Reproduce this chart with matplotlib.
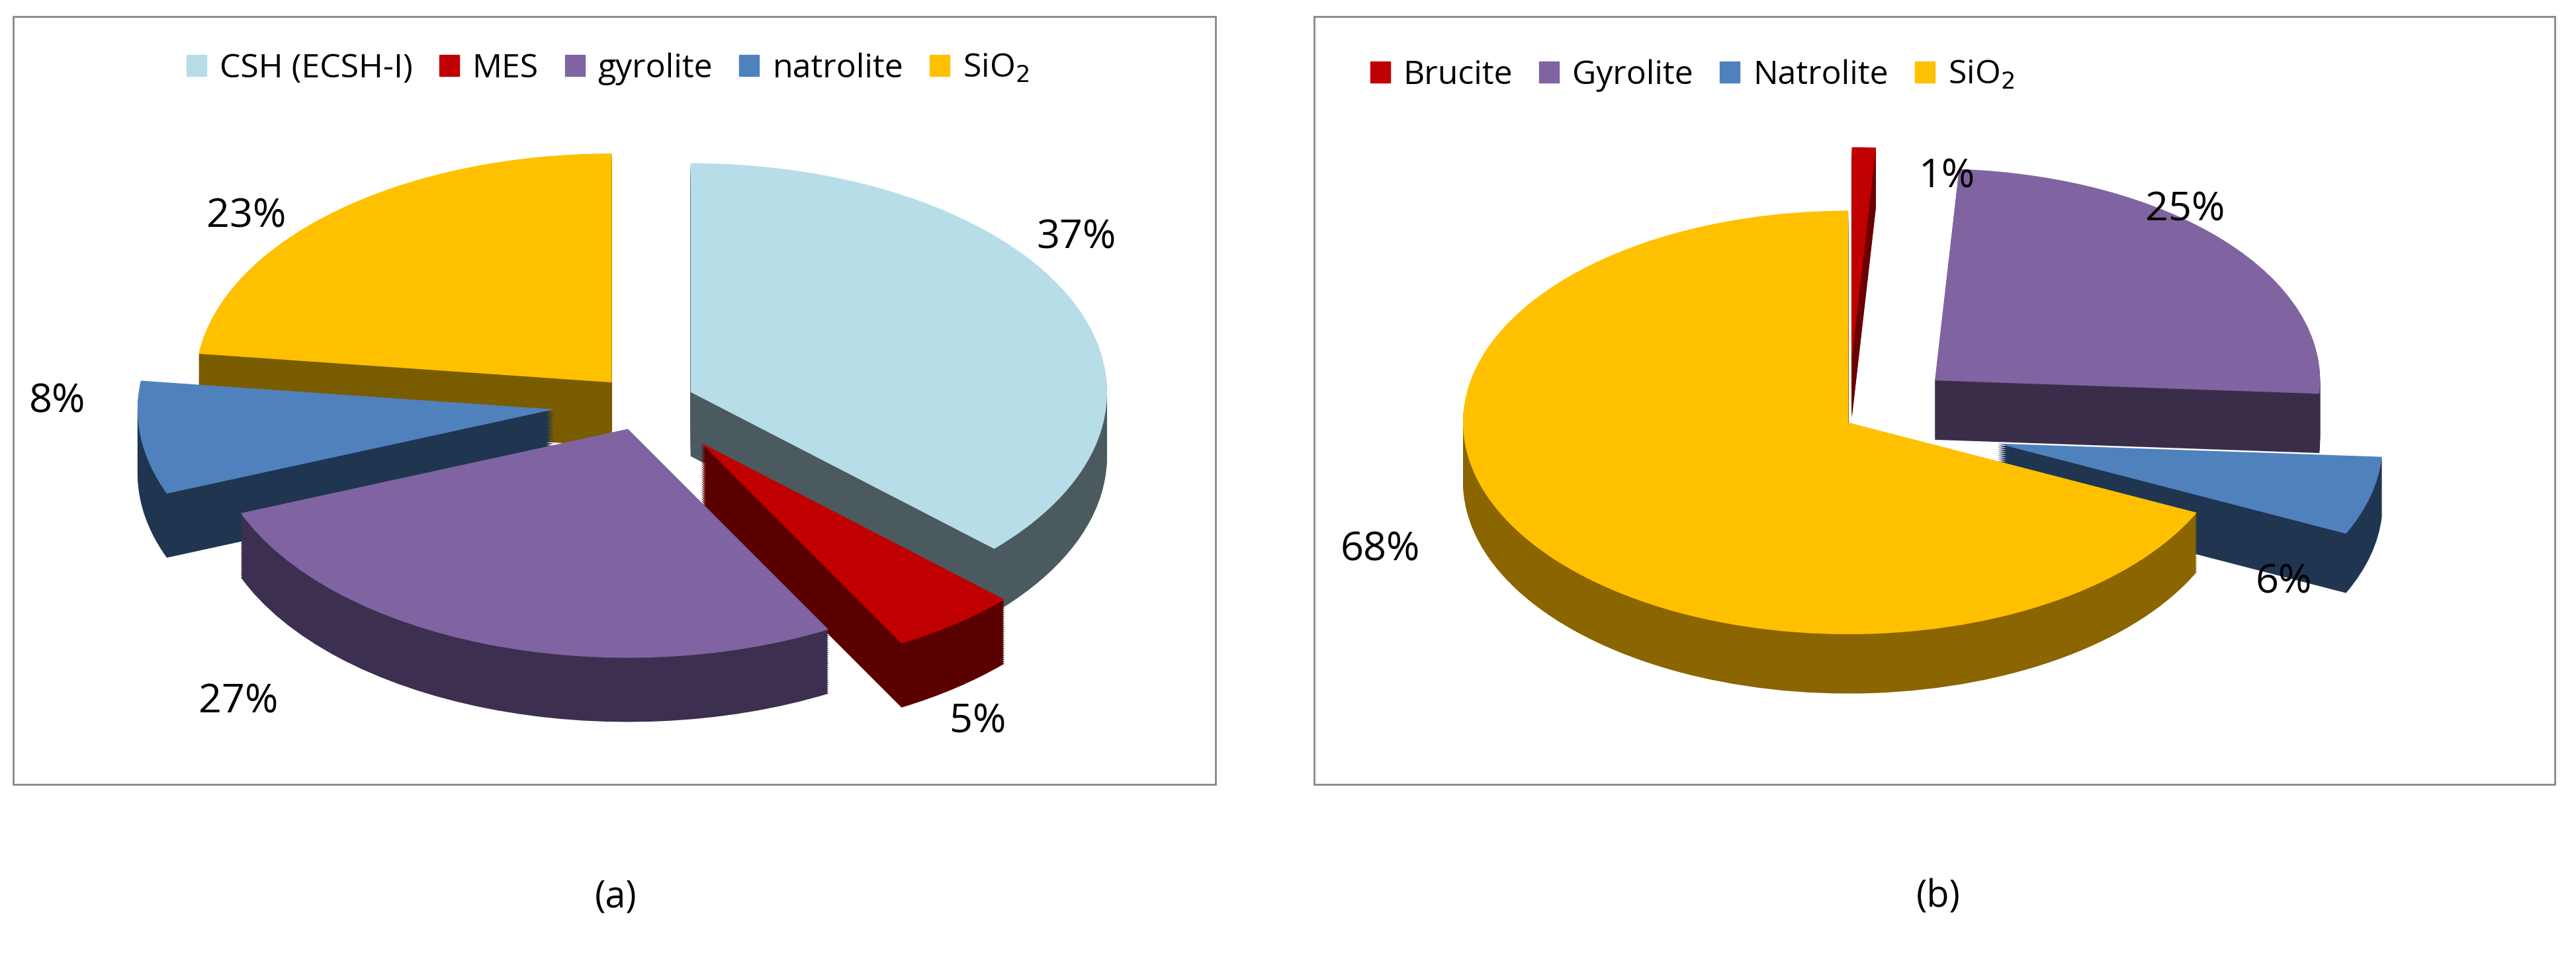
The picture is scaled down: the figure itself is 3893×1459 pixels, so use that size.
import matplotlib
matplotlib.use("Agg")
import matplotlib.pyplot as plt
from matplotlib.patches import Rectangle, Patch
import numpy as np

labels_a = ["CSH (ECSH-I)", "MES", "gyrolite", "natrolite", "SiO$_2$"]
values_a = [37, 5, 27, 8, 23]
colors_a = ["#b7dde8", "#c00000", "#8064a2", "#4f81bd", "#ffc000"]
side_a = ["#4a5a5e", "#5a0000", "#3c2f4f", "#1f3550", "#7a5c00"]
explode_a = [0.12, 0.22, 0.12, 0.22, 0.12]

labels_b = ["Brucite", "Gyrolite", "Natrolite", "SiO$_2$"]
values_b = [1, 25, 6, 68]
colors_b = ["#c00000", "#8064a2", "#4f81bd", "#ffc000"]
side_b = ["#6a0000", "#3a2d4a", "#1f3550", "#8a6500"]
explode_b = [0.3, 0.3, 0.4, 0.0]

W, H = 3893, 1459
fig = plt.figure(figsize=(W/100, H/100), dpi=100)
plt.rcParams['font.family'] = ['Open Sans', 'DejaVu Sans']

def box(x0, y0, x1, y1):
    fig.patches.append(Rectangle((x0/1568, 1-y1/588), (x1-x0)/1568, (y1-y0)/588,
                                 transform=fig.transFigure, fill=False, ec="#888888", lw=2))

def pie3d(rect, vals, cols, sides, expl, start):
    ax = fig.add_axes(rect)
    depth = 0.28
    n = 30
    for k in range(n, 0, -1):
        ax.pie(vals, colors=sides, explode=expl, startangle=start, counterclock=False,
               center=(0, -depth*k/n), radius=1.0, wedgeprops=dict(lw=0))
    ax.pie(vals, colors=cols, explode=expl, startangle=start, counterclock=False,
           radius=1.0, wedgeprops=dict(lw=0))
    ax.set_aspect(0.55)
    ax.set_xlim(-1.45, 1.45)
    ax.set_ylim(-1.65, 1.3)
    return ax

# panel a
box(8, 10, 740, 478)
pie3d([25/1568, 1-480/588, 735/1568, 420/588], values_a, colors_a, side_a, explode_a, 90)
fig.legend(handles=[Patch(color=c) for c in colors_a], labels=labels_a, loc="center",
           bbox_to_anchor=(370/1568, 1-42/588), ncol=5, frameon=False, fontsize=36,
           handlelength=0.6, handleheight=0.6, columnspacing=0.8, handletextpad=0.4)
for t, (x, y) in zip(["37%", "5%", "27%", "8%", "23%"],
                     [(655, 145), (595, 440), (145, 428), (35, 245), (150, 132)]):
    fig.text(x/1568, 1-y/588, t, fontsize=44, ha="center", va="center")

# panel b
box(800, 10, 1555, 478)
pie3d([785/1568, 1-505/588, 680/1568, 450/588], values_b, colors_b, side_b, explode_b, 90)
fig.legend(handles=[Patch(color=c) for c in colors_b], labels=labels_b, loc="center",
           bbox_to_anchor=(1030/1568, 1-46/588), ncol=4, frameon=False, fontsize=36,
           handlelength=0.6, handleheight=0.6, columnspacing=0.8, handletextpad=0.4)
for t, (x, y) in zip(["1%", "25%", "6%", "68%"],
                     [(1185, 108), (1330, 128), (1390, 355), (840, 335)]):
    fig.text(x/1568, 1-y/588, t, fontsize=44, ha="center", va="center")

fig.text(375/1568, 1-547/588, "(a)", fontsize=40, ha="center", va="center")
fig.text(1180/1568, 1-547/588, "(b)", fontsize=40, ha="center", va="center")
fig.savefig("out.png", dpi=100, facecolor="white")
